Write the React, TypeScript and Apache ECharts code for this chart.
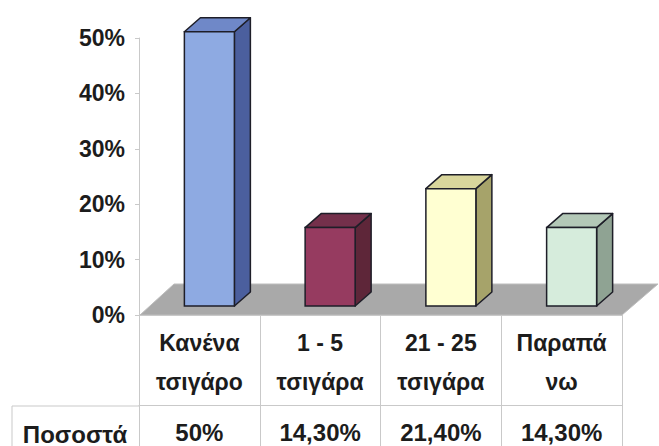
import React, { useEffect, useRef } from "react";
import * as echarts from "echarts";

const categories = ["Κανένα\nτσιγάρο", "1 - 5\nτσιγάρα", "21 - 25\nτσιγάρα", "Παραπά\nνω"];
const values = [50, 14.3, 21.4, 14.3];
const seriesName = "Ποσοστά";
const yMin = 0;
const yMax = 50;
const yInterval = 10;

const palette = [
  { front: "#8eaae2", side: "#4b5f9e", top: "#6f88c8" },
  { front: "#963b60", side: "#5e2639", top: "#74304b" },
  { front: "#ffffd2", side: "#a6a36a", top: "#d9d69c" },
  { front: "#d6ecdc", side: "#8fa393", top: "#b3c8b7" },
];

const fmtValue = (v: number) =>
  Number.isInteger(v) ? `${v}%` : `${v.toFixed(2).replace(".", ",")}%`;

const FONT = "'Liberation Sans', Arial, sans-serif";
const TXT = "#1c1c1c";
const LINE = "#c9c9c9";

export default function App() {
  const ref = useRef<HTMLDivElement>(null);
  useEffect(() => {
    if (!ref.current) return;
    const chart = echarts.init(ref.current, null, { renderer: "svg" });
    const option: any = {
      animation: false,
      backgroundColor: "#ffffff",
      grid: { left: 139, right: 37, top: 38, bottom: 130 },
      xAxis: [
        {
          type: "category",
          data: categories,
          boundaryGap: true,
          axisLine: { show: true, lineStyle: { color: LINE, width: 1 } },
          axisTick: { show: true, interval: 0, length: 140, lineStyle: { color: LINE } },
          axisLabel: {
            interval: 0,
            margin: 8,
            fontFamily: FONT,
            fontSize: 23,
            fontWeight: "bold",
            lineHeight: 39,
            color: TXT,
          },
          splitLine: { show: false },
          z: 1,
        },
        {
          type: "category",
          data: categories,
          position: "bottom",
          offset: 90,
          axisLine: { show: true, lineStyle: { color: LINE, width: 1 } },
          axisTick: { show: false },
          axisLabel: {
            interval: 0,
            margin: 13,
            fontFamily: FONT,
            fontSize: 24,
            fontWeight: "bold",
            lineHeight: 28,
            color: TXT,
            formatter: (_: string, i: number) => fmtValue(values[i]),
          },
          splitLine: { show: false },
        },
      ],
      yAxis: {
        type: "value",
        min: yMin,
        max: yMax,
        interval: yInterval,
        axisLine: { show: true, lineStyle: { color: LINE } },
        axisTick: { show: true, length: 4, lineStyle: { color: LINE } },
        splitLine: { show: false },
        axisLabel: {
          formatter: "{value}%",
          margin: 14,
          fontFamily: FONT,
          fontSize: 23,
          fontWeight: "bold",
          color: TXT,
        },
      },
      graphic: [
        {
          type: "line",
          shape: { x1: 12, y1: 406, x2: 139, y2: 406 },
          style: { stroke: LINE, lineWidth: 1 },
        },
        {
          type: "line",
          shape: { x1: 12, y1: 406, x2: 12, y2: 446 },
          style: { stroke: LINE, lineWidth: 1 },
        },
        {
          type: "text",
          x: 75,
          y: 434,
          style: {
            text: seriesName,
            fontFamily: FONT,
            fontSize: 24,
            fontWeight: "bold",
            fill: TXT,
            textAlign: "center",
            textVerticalAlign: "middle",
          },
        },
      ],
      series: [
        {
          type: "custom",
          name: "floor",
          silent: true,
          clip: false,
          z: 1,
          data: [[0, 0]],
          renderItem: (params: any) => {
            const cs = params.coordSys;
            const yb = cs.y + cs.height;
            return {
              type: "polygon",
              shape: {
                points: [
                  [cs.x + 1, yb],
                  [cs.x + cs.width, yb],
                  [cs.x + cs.width + 36, yb - 31],
                  [cs.x + 35, yb - 31],
                ],
              },
              style: { fill: "#a9a9a9", stroke: "#bdbdbd", lineWidth: 1 },
            };
          },
        },
        {
          type: "custom",
          name: seriesName,
          clip: false,
          z: 3,
          data: values.map((v, i) => [i, v]),
          renderItem: (params: any, api: any) => {
            const i = api.value(0);
            const v = api.value(1);
            const base = api.coord([i, 0]);
            const top = api.coord([i, v]);
            const c = palette[params.dataIndex % palette.length];
            const bw = 50;
            const dx = 16;
            const dy = 14;
            const lift = 9;
            const shift = 10;
            const x0 = base[0] + shift - bw / 2;
            const x1 = x0 + bw;
            const yb = base[1] - lift;
            const yt = yb - (base[1] - top[1]) * 0.99;
            const stroke = "#1e1e28";
            return {
              type: "group",
              children: [
                {
                  type: "polygon",
                  shape: { points: [[x1, yt], [x1 + dx, yt - dy], [x1 + dx, yb - dy], [x1, yb]] },
                  style: { fill: c.side, stroke, lineWidth: 1.5, lineJoin: "round" },
                },
                {
                  type: "polygon",
                  shape: { points: [[x0, yt], [x0 + dx, yt - dy], [x1 + dx, yt - dy], [x1, yt]] },
                  style: { fill: c.top, stroke, lineWidth: 1.5, lineJoin: "round" },
                },
                {
                  type: "rect",
                  shape: { x: x0, y: yt, width: bw, height: yb - yt },
                  style: { fill: c.front, stroke, lineWidth: 1.5 },
                },
              ],
            };
          },
        },
      ],
    };
    chart.setOption(option);
    return () => chart.dispose();
  }, []);
  return (
    <div
      ref={ref}
      style={{ position: "fixed", left: 0, top: 0, width: 659, height: 446, background: "#fff" }}
    />
  );
}
